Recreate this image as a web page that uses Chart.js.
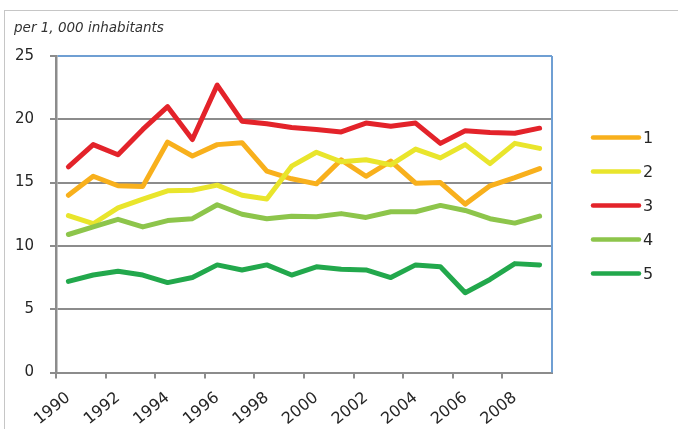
<!DOCTYPE html>
<html>
<head>
<meta charset="utf-8">
<script src="https://cdn.jsdelivr.net/npm/chart.js@4.4.1/dist/chart.umd.min.js"></script>
<style>
  html, body { margin: 0; padding: 0; background: #fff; }
  #wrap { position: relative; width: 678px; height: 429px; overflow: hidden; }
  #wrap canvas { position: absolute; left: 0; top: 0; }
  #frame { position: absolute; left: 4px; top: 10px; width: 700px; height: 460px;
           border-left: 1.5px solid #c6c6c6; border-top: 1.5px solid #c6c6c6; pointer-events: none; }
</style>
</head>
<body>
<div id="wrap">
  <canvas id="chart" width="678" height="429"></canvas>
  <div id="frame"></div>
</div>
<script>
// Rates per 1,000 inhabitants, 1990-2009
const years = ['1990','1991','1992','1993','1994','1995','1996','1997','1998','1999',
               '2000','2001','2002','2003','2004','2005','2006','2007','2008','2009'];
const shownYears = ['1990','1992','1994','1996','1998','2000','2002','2004','2006','2008'];
const yTicks = [0, 5, 10, 15, 20, 25];
const seriesNames = ['1', '2', '3', '4', '5'];

const series1 = [14.0, 15.5, 14.75, 14.7, 18.2, 17.1, 18.0, 18.15, 15.9, 15.3,
                 14.9, 16.8, 15.5, 16.7, 14.95, 15.0, 13.3, 14.75, 15.4, 16.1];
const series2 = [12.4, 11.75, 13.0, 13.7, 14.35, 14.4, 14.8, 14.0, 13.7, 16.3,
                 17.4, 16.65, 16.8, 16.4, 17.65, 16.95, 18.0, 16.5, 18.1, 17.7];
const series3 = [16.25, 18.0, 17.2, 19.2, 21.0, 18.4, 22.7, 19.85, 19.65, 19.35,
                 19.2, 19.0, 19.7, 19.45, 19.7, 18.1, 19.1, 18.95, 18.9, 19.3];
const series4 = [10.9, 11.5, 12.1, 11.5, 12.0, 12.15, 13.25, 12.5, 12.15, 12.35,
                 12.3, 12.55, 12.25, 12.7, 12.7, 13.2, 12.8, 12.15, 11.8, 12.35];
const series5 = [7.2, 7.7, 8.0, 7.7, 7.1, 7.5, 8.5, 8.1, 8.5, 7.7,
                 8.35, 8.15, 8.1, 7.5, 8.5, 8.35, 6.3, 7.35, 8.6, 8.5];

const allSeries = [series1, series2, series3, series4, series5];
const colors = ['#F8B01C', '#E9E52C', '#E3232A', '#8DC54B', '#22A84C'];

const GRID = '#8c8c8c';
const FRAME_BLUE = '#6f9fd3';
const TEXT = '#262626';

// Right-hand edge of the plot frame
const plotFrame = {
  id: 'plotFrame',
  afterDraw(chart) {
    const { ctx, chartArea: a } = chart;
    ctx.save();
    ctx.strokeStyle = FRAME_BLUE;
    ctx.lineWidth = 2;
    ctx.beginPath();
    ctx.moveTo(a.right, a.top);
    ctx.lineTo(a.right, a.bottom);
    ctx.stroke();
    ctx.restore();
  }
};

// Key to the right of the plot: a short line sample and the series name
const sideKey = {
  id: 'sideKey',
  afterDraw(chart) {
    const { ctx } = chart;
    const x0 = 593, x1 = 639, yStart = 137.5, step = 34;
    ctx.save();
    ctx.font = '16px "DejaVu Sans"';
    ctx.textBaseline = 'middle';
    ctx.textAlign = 'left';
    chart.data.datasets.forEach((ds, i) => {
      const y = yStart + i * step;
      ctx.strokeStyle = ds.borderColor;
      ctx.lineWidth = 4.5;
      ctx.lineCap = 'round';
      ctx.beginPath();
      ctx.moveTo(x0, y);
      ctx.lineTo(x1, y);
      ctx.stroke();
      ctx.fillStyle = TEXT;
      ctx.fillText(ds.label, x1 + 4, y + 1);
    });
    ctx.restore();
  }
};

new Chart(document.getElementById('chart'), {
  type: 'line',
  data: {
    labels: years,
    datasets: allSeries.map((values, i) => ({
      label: seriesNames[i],
      data: values,
      borderColor: colors[i],
      backgroundColor: colors[i],
      borderWidth: 5,
      borderJoinStyle: 'round',
      borderCapStyle: 'round',
      pointRadius: 0,
      tension: 0,
      fill: false,
      order: allSeries.length - i
    }))
  },
  options: {
    responsive: false,
    animation: false,
    devicePixelRatio: 1,
    layout: { padding: { left: 14, top: 17, right: 126, bottom: 0 } },
    plugins: {
      legend: { display: false },
      tooltip: { enabled: false },
      title: {
        display: true,
        text: 'per 1, 000 inhabitants',
        align: 'start',
        color: '#333',
        font: { family: 'DejaVu Sans', size: 13.5, style: 'italic', weight: 'normal' },
        padding: { top: 3, bottom: 19.8 }
      }
    },
    scales: {
      x: {
        type: 'category',
        offset: true,
        grid: {
          offset: true,
          drawOnChartArea: false,
          tickLength: 6,
          lineWidth: 2,
          color: GRID,
          tickColor: (c) => (c.index % 2 === 0 ? GRID : 'rgba(0,0,0,0)')
        },
        border: { color: GRID, width: 2 },
        ticks: {
          autoSkip: false,
          minRotation: 39,
          maxRotation: 39,
          padding: 10,
          color: TEXT,
          font: { family: 'DejaVu Sans', size: 16 },
          callback: function (value) {
            const lab = this.getLabelForValue(value);
            return shownYears.includes(lab) ? lab : '';
          }
        },
        afterFit: (s) => { s.height = 56.5; }
      },
      y: {
        min: 0,
        max: 25,
        afterBuildTicks: (s) => { s.ticks = yTicks.map(v => ({ value: v })); },
        grid: {
          lineWidth: 2,
          tickLength: 6,
          color: (c) => (c.tick && c.tick.value === 25 ? FRAME_BLUE : GRID),
          tickColor: GRID
        },
        border: { color: GRID, width: 2.5 },
        ticks: {
          padding: 16,
          color: TEXT,
          font: { family: 'DejaVu Sans', size: 15 }
        },
        afterFit: (s) => { s.width = 42; }
      }
    }
  },
  plugins: [plotFrame, sideKey]
});
</script>
</body>
</html>
